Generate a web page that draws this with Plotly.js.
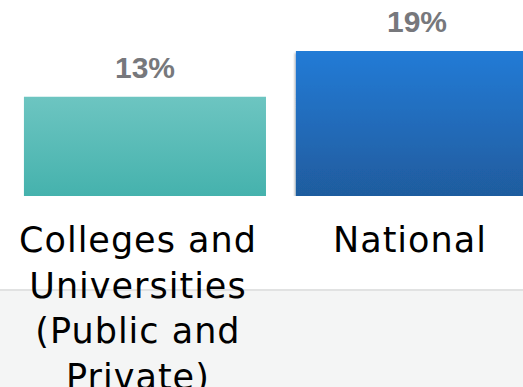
<!DOCTYPE html>
<html>
<head>
<meta charset="utf-8">
<script src="https://cdn.plot.ly/plotly-3.0.1.min.js"></script>
<style>
  html, body { margin: 0; padding: 0; background: #ffffff; }
  #chart { width: 523px; height: 387px; }
  .xtick text { letter-spacing: 1px; }
</style>
</head>
<body>
<div id="chart"></div>
<script>
// ---- Data ----
const categories = ["Colleges and Universities (Public and Private)", "National"];
const tickLabels = ["Colleges and<br>Universities<br>(Public and<br>Private)", "National"];
const values = [13, 19];
const valueLabels = ["13%", "19%"];

// ---- Styles ----
const barColors = ["#5bc0bb", "#2270c0"];
const gradients = [
  { id: "gradTeal", top: "#6dc5c1", bottom: "#45b2ad" },
  { id: "gradBlue", top: "#247bd6", bottom: "#1f5c9e" }
];

const trace = {
  type: "bar",
  x: categories,
  y: values,
  marker: { color: barColors, line: { width: 0 } },
  hoverinfo: "skip",
  cliponaxis: false
};

const annotations = categories.map((c, i) => ({
  x: c,
  y: values[i],
  xref: "x",
  yref: "y",
  text: valueLabels[i],
  showarrow: false,
  yanchor: "bottom",
  yshift: 11,
  font: { family: "Liberation Sans, Arial, sans-serif", size: 30, color: "#77787c", weight: "bold" }
}));

const layout = {
  width: 523,
  height: 387,
  margin: { l: 0, r: 0, t: 0, b: 191 },
  paper_bgcolor: "#ffffff",
  plot_bgcolor: "rgba(0,0,0,0)",
  showlegend: false,
  bargap: 0.11,
  xaxis: {
    type: "category",
    range: [-0.533, 1.39],
    tickvals: categories,
    ticktext: tickLabels,
    tickfont: { family: "DejaVu Sans, sans-serif", size: 35, color: "#000000" },
    ticks: "",
    showline: false,
    showgrid: false,
    zeroline: false,
    ticklabelstandoff: 20,
    ticklabelshift: -7,
    fixedrange: true
  },
  yaxis: {
    range: [0, 25.7],
    visible: false,
    showgrid: false,
    zeroline: false,
    fixedrange: true
  },
  shapes: [
    {
      type: "rect", xref: "paper", yref: "paper",
      x0: -0.1, x1: 1.1, y0: -1.2, y1: -0.4796,
      fillcolor: "#f4f5f5", line: { width: 0 }, layer: "below"
    },
    {
      type: "line", xref: "paper", yref: "paper",
      x0: -0.1, x1: 1.1, y0: -0.4796, y1: -0.4796,
      line: { color: "#e1e2e2", width: 2 }, layer: "below"
    }
  ],
  annotations: annotations
};

Plotly.newPlot("chart", [trace], layout, { displayModeBar: false, staticPlot: true }).then(function (gd) {
  const svg = gd.querySelector("svg.main-svg");
  const ns = "http://www.w3.org/2000/svg";
  let defs = svg.querySelector("defs");
  if (!defs) { defs = document.createElementNS(ns, "defs"); svg.insertBefore(defs, svg.firstChild); }
  gradients.forEach(g => {
    const lg = document.createElementNS(ns, "linearGradient");
    lg.setAttribute("id", g.id);
    lg.setAttribute("x1", "0"); lg.setAttribute("y1", "0");
    lg.setAttribute("x2", "0"); lg.setAttribute("y2", "1");
    const s1 = document.createElementNS(ns, "stop");
    s1.setAttribute("offset", "0"); s1.setAttribute("stop-color", g.top);
    const s2 = document.createElementNS(ns, "stop");
    s2.setAttribute("offset", "1"); s2.setAttribute("stop-color", g.bottom);
    lg.appendChild(s1); lg.appendChild(s2);
    defs.appendChild(lg);
  });
  const f = document.createElementNS(ns, "filter");
  f.setAttribute("id", "barShadow");
  f.setAttribute("x", "-10%"); f.setAttribute("y", "-10%");
  f.setAttribute("width", "120%"); f.setAttribute("height", "120%");
  const ds = document.createElementNS(ns, "feDropShadow");
  ds.setAttribute("dx", "-1"); ds.setAttribute("dy", "2");
  ds.setAttribute("stdDeviation", "1");
  ds.setAttribute("flood-color", "#000"); ds.setAttribute("flood-opacity", "0.35");
  f.appendChild(ds);
  defs.appendChild(f);

  const paths = gd.querySelectorAll(".bars .point path");
  paths.forEach((p, i) => {
    p.style.fill = "url(#" + gradients[i].id + ")";
    if (i === 1) p.setAttribute("filter", "url(#barShadow)");
  });
});
</script>
</body>
</html>
